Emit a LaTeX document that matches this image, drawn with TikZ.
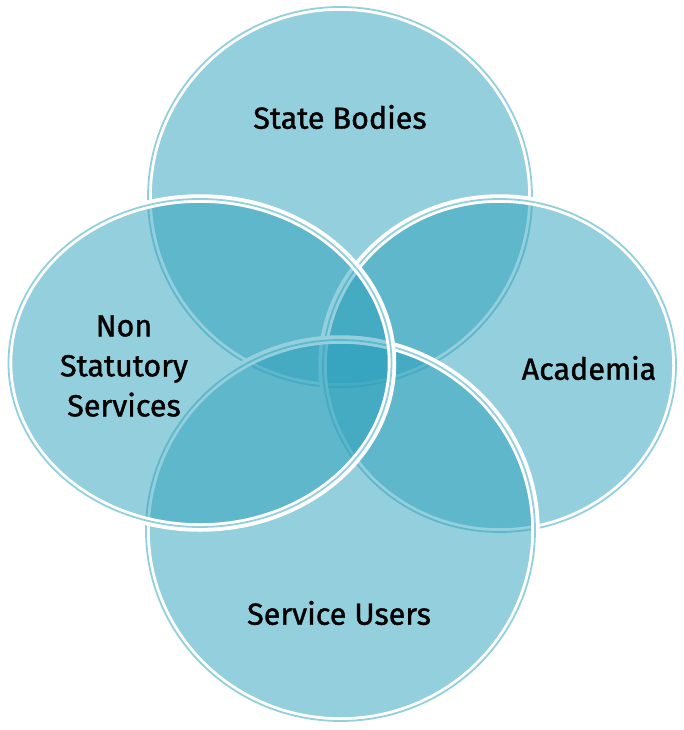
\documentclass[tikz,border=0pt]{standalone}
\usepackage{fontspec}
\setmainfont{Fira Sans}
\newfontfamily\lblfont{Fira Sans}[FakeBold=1.2]
\definecolor{venn}{RGB}{43,160,188}
\newcommand\vennblob[4]{%
  \pgfmathsetmacro\vbw{#3+0.5}\pgfmathsetmacro\vbh{#4+0.5}%
  \fill[venn, fill opacity=0.5] (#1,#2) ellipse [x radius=#3, y radius=#4];
  \draw[white, line width=8.5] (#1,#2) ellipse [x radius=\vbw, y radius=\vbh];
  \draw[venn, draw opacity=0.5, line width=1.8] (#1,#2) ellipse [x radius=#3, y radius=#4];
}
\begin{document}
\begin{tikzpicture}[x=1pt,y=-1pt]
\tikzset{lbl/.style={font=\lblfont\fontsize{30.5}{40}\selectfont, align=center, text=black, inner sep=0pt}}
\fill[white] (0,0) rectangle (683,730);
\useasboundingbox (0,0) rectangle (683,730);
\vennblob{340}{197}{192}{190}
\vennblob{499.5}{365.5}{176.5}{166.5}
\vennblob{340.5}{530.5}{194.5}{190.5}
\vennblob{200}{363}{191.5}{164}
\node[lbl] (state) at (340,117) {State Bodies};
\node[lbl] (acad) at (589,368) {Academia};
\node[lbl] (nonstat) at (124,366) {Non\\Statutory\\Services};
\node[lbl] (users) at (339,613) {Service Users};
\end{tikzpicture}
\end{document}
